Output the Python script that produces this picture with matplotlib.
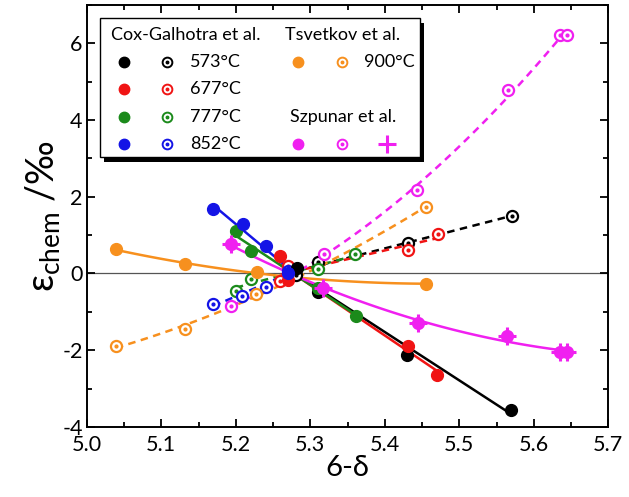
import numpy as np
import matplotlib
matplotlib.use('Agg')
import matplotlib.pyplot as plt
from matplotlib.patches import Rectangle

plt.rcParams['font.family'] = ['Lato', 'DejaVu Sans']
plt.rcParams['mathtext.fontset'] = 'custom'
plt.rcParams['mathtext.rm'] = 'Lato'
plt.rcParams['mathtext.it'] = 'Lato'
plt.rcParams['axes.unicode_minus'] = False

##### data ############################################
# Cox-Galhotra et al. (filled = solid line, open = dashed line)
cg573_xf = [5.282, 5.310, 5.430, 5.570]
cg573_yf = [0.14, -0.47, -2.12, -3.55]
cg573_xo = [5.281, 5.310, 5.431, 5.571]
cg573_yo = [-0.03, 0.31, 0.80, 1.50]

cg677_xf = [5.259, 5.270, 5.431, 5.470]
cg677_yf = [0.46, -0.17, -1.88, -2.64]
cg677_xo = [5.260, 5.270, 5.431, 5.471]
cg677_yo = [-0.19, 0.20, 0.61, 1.02]

cg777_xf = [5.200, 5.220, 5.310, 5.362]
cg777_yf = [1.10, 0.58, -0.38, -1.10]
cg777_xo = [5.200, 5.220, 5.311, 5.360]
cg777_yo = [-0.45, -0.14, 0.11, 0.52]

cg852_xf = [5.169, 5.210, 5.241, 5.270]
cg852_yf = [1.67, 1.29, 0.71, 0.02]
cg852_xo = [5.170, 5.209, 5.240, 5.270]
cg852_yo = [-0.79, -0.58, -0.34, 0.06]

# Tsvetkov et al. 900 C
ts900_xf = [5.039, 5.132, 5.228, 5.455]
ts900_yf = [0.63, 0.24, 0.03, -0.27]
ts900_xo = [5.039, 5.132, 5.227, 5.455]
ts900_yo = [-1.90, -1.44, -0.53, 1.73]

# Szpunar et al.
sz_xf = [5.193, 5.317, 5.444, 5.564, 5.635, 5.645]
sz_yf = [0.76, -0.38, -1.28, -1.62, -2.05, -2.05]
sz_xo = [5.194, 5.318, 5.443, 5.566, 5.635, 5.645]
sz_yo = [-0.84, 0.50, 2.17, 4.78, 6.22, 6.22]
sz_xp = [5.193, 5.317, 5.444, 5.564, 5.635, 5.645]
sz_yp = [0.76, -0.38, -1.28, -1.62, -2.05, -2.05]

temps = ['573°C', '677°C', '777°C', '852°C']
cols = {'k': '#000000', 'r': '#f01414', 'g': '#1b8a1b', 'b': '#1414e6',
        'o': '#f7901e', 'm': '#f020f0'}
########################################################

fig = plt.figure(figsize=(6.29, 4.97), dpi=100)
ax = fig.add_axes([0.138, 0.141, 0.829, 0.849])

ax.axhline(0, color='#555555', lw=0.9, zorder=1)


def fitline(x, y, deg, c, ls):
    p = np.polyfit(x, y, deg)
    xx = np.linspace(min(x), max(x), 100)
    if ls == '--':
        ax.plot(xx, np.polyval(p, xx), color=c, lw=1.8, dashes=(3, 2.2), zorder=2)
    else:
        ax.plot(xx, np.polyval(p, xx), color=c, lw=1.8, zorder=2)


def filled(x, y, c):
    ax.plot(x, y, 'o', color=c, ms=8.5, mec=c, zorder=4)


def opened(x, y, c):
    ax.plot(x, y, 'o', mfc='white', mec=c, ms=8, mew=1.6, zorder=3)
    ax.plot(x, y, 'o', color=c, ms=2, zorder=3)


sets = [(cg573_xf, cg573_yf, cg573_xo, cg573_yo, cols['k']),
        (cg677_xf, cg677_yf, cg677_xo, cg677_yo, cols['r']),
        (cg777_xf, cg777_yf, cg777_xo, cg777_yo, cols['g']),
        (cg852_xf, cg852_yf, cg852_xo, cg852_yo, cols['b'])]
for xf, yf, xo, yo, c in sets:
    fitline(xf, yf, 1, c, '-')
    fitline(xo, yo, 1, c, '--')

fitline(ts900_xf, ts900_yf, 2, cols['o'], '-')
fitline(ts900_xo, ts900_yo, 2, cols['o'], '--')
fitline(sz_xf, sz_yf, 2, cols['m'], '-')
fitline(sz_xo, sz_yo, 2, cols['m'], '--')

for xf, yf, xo, yo, c in sets:
    opened(xo, yo, c)
    filled(xf, yf, c)
opened(ts900_xo, ts900_yo, cols['o'])
filled(ts900_xf, ts900_yf, cols['o'])
opened(sz_xo, sz_yo, cols['m'])
filled(sz_xf, sz_yf, cols['m'])
ax.plot(sz_xp, sz_yp, '+', color=cols['m'], ms=13, mew=2.2, zorder=5)

ax.set_xlim(5.0, 5.7)
ax.set_ylim(-4, 7)
ax.set_xticks(np.arange(5.0, 5.71, 0.1))
ax.set_xticks(np.arange(5.05, 5.7, 0.1), minor=True)
ax.set_xticklabels(['5.0', '5.1', '5.2', '5.3', '5.4', '5.5', '5.6', '5.7'])
ax.set_yticks([-4, -2, 0, 2, 4, 6])
ax.set_yticks([-3, -1, 1, 3, 5, 7], minor=True)
ax.tick_params(which='both', direction='in', top=True, right=True, width=1.3, labelsize=15.5)
ax.tick_params(which='major', length=6)
ax.tick_params(which='minor', length=3.5)
ax.tick_params(axis='x', pad=6)
ax.tick_params(axis='y', pad=3)
for s in ax.spines.values():
    s.set_linewidth(1.4)
ax.set_xlabel('6-δ', fontsize=21, labelpad=0)
ax.set_ylabel(r'$\mathregular{ε_{chem}}$ /‰', fontsize=27, labelpad=0)

# legend drawn by hand (pixel layout of the original box)
def P(px, py):
    return ((px - 87) / 521, (427 - py) / 422)

x0, y0 = P(100, 157)
x1, y1 = P(420, 18)
sh = 4 / 521
ax.add_patch(Rectangle((x0 + sh, y0 - 5 / 422), x1 - x0, y1 - y0, transform=ax.transAxes,
                       facecolor='black', edgecolor='none', zorder=9))
ax.add_patch(Rectangle((x0, y0), x1 - x0, y1 - y0, transform=ax.transAxes,
                       facecolor='white', edgecolor='black', lw=1.0, zorder=10))

tk = dict(transform=ax.transAxes, fontsize=13, va='center', ha='left', zorder=11)
ax.text(*P(111, 35), 'Cox-Galhotra et al.', **tk)
ax.text(*P(285, 35), 'Tsvetkov et al.', **tk)
ax.text(*P(290, 117), 'Szpunar et al.', **tk)
rows = [62, 89, 117, 144]
for (xf, yf, xo, yo, c), t, r in zip(sets, temps, rows):
    ax.plot(*P(124, r), 'o', color=c, ms=7.5, transform=ax.transAxes, zorder=11, clip_on=False)
    ax.plot(*P(167, r), 'o', mfc='white', mec=c, ms=7, mew=1.4, transform=ax.transAxes, zorder=11, clip_on=False)
    ax.plot(*P(167, r), 'o', color=c, ms=1.8, transform=ax.transAxes, zorder=12, clip_on=False)
    ax.text(*P(190, r), t, **tk)
ax.plot(*P(298, 62), 'o', color=cols['o'], ms=7.5, transform=ax.transAxes, zorder=11)
ax.plot(*P(342, 62), 'o', mfc='white', mec=cols['o'], ms=7, mew=1.4, transform=ax.transAxes, zorder=11)
ax.plot(*P(342, 62), 'o', color=cols['o'], ms=1.8, transform=ax.transAxes, zorder=12)
ax.text(*P(364, 62), '900°C', **tk)
ax.plot(*P(298, 144), 'o', color=cols['m'], ms=7.5, transform=ax.transAxes, zorder=11)
ax.plot(*P(342, 144), 'o', mfc='white', mec=cols['m'], ms=7, mew=1.4, transform=ax.transAxes, zorder=11)
ax.plot(*P(342, 144), 'o', color=cols['m'], ms=1.8, transform=ax.transAxes, zorder=12)
ax.plot(*P(387, 144), '+', color=cols['m'], ms=13, mew=2.2, transform=ax.transAxes, zorder=11)

plt.savefig('out.png', dpi=100)
